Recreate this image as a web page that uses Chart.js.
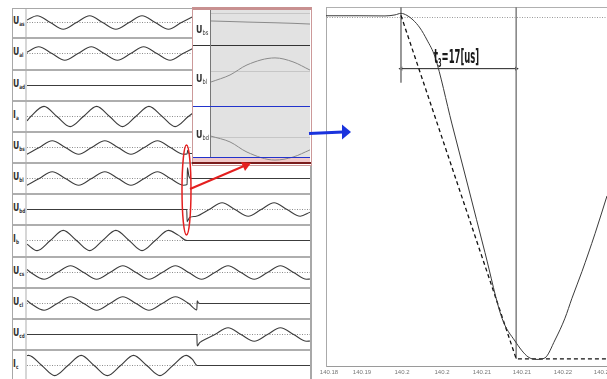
<!DOCTYPE html>
<html>
<head>
<meta charset="utf-8">
<script src="https://cdn.jsdelivr.net/npm/chart.js@4.4.1/dist/chart.umd.min.js"></script>
<style>
  body{margin:0;width:607px;height:379px;overflow:hidden;background:#fff;position:relative;
       font-family:'Liberation Sans Narrow','DejaVu Sans Condensed','Liberation Sans',Arial,sans-serif}
  .abs{position:absolute}
  .box{position:absolute}
  .lbl{position:absolute;font-weight:bold;font-size:11px;color:#333;line-height:12px;white-space:nowrap;transform:scaleX(0.78);transform-origin:0 0}
  .lbl sub{font-size:6px;vertical-align:-2px}
  .ilbl{position:absolute;font-weight:bold;font-size:11px;color:#333;line-height:12px;white-space:nowrap;transform:scaleX(0.8);transform-origin:0 0}
  .ilbl sub{font-size:7px;vertical-align:-2px;font-weight:normal}
</style>
</head>
<body>
<script>
// ---- left strips: time in ms, values per unit (currents drawn with larger swing)
const T_END = 89.8;
const ROW_LABELS = [['U','as'],['U','al'],['U','ad'],['I','a'],['U','bs'],['U','bl'],['U','bd'],['I','b'],['U','cs'],['U','cl'],['U','cd'],['I','c']];

const UAS = [[0,0.36],[3.2,1],[7.4,0],[11.5,-1],[15.7,0],[19.9,1],[24.0,0],[28.2,-1],[32.4,0],[36.5,1],[40.7,0],[44.9,-1],[49.0,0],[53.2,1]];
const UAL = [[0,0.2],[3.7,1],[7.9,0],[12.0,-1],[16.2,0],[20.4,1],[24.5,0],[28.7,-1],[32.9,0],[37.0,1],[41.2,0],[45.4,-1],[49.5,0],[53.7,1]];
const UAD = [[0,0],[54,0]];
const IA  = [[0,-0.65],[1.2,0],[5.4,1.5],[9.5,0],[13.7,-1.5],[17.9,0],[22.1,1.5],[26.2,0],[30.3,-1.5],[34.5,0],[38.7,1.5],[42.9,0],[47.0,-1.5],[51.2,0],[55.4,1.5]];
const UBS = [[0,-1],[3.9,0],[8.0,1],[12.2,0],[16.4,-1],[20.5,0],[24.7,1],[28.9,0],[33.0,-1],[37.2,0],[41.4,1],[45.5,0],[49.7,-1],[50.8,-0.95],[51.0,-0.4],[51.4,-0.9],[54,-0.85]];
const UBL = [[0,-1],[3.9,0],[8.0,1],[12.2,0],[16.4,-1],[20.5,0],[24.7,1],[28.9,0],[33.0,-1],[37.2,0],[41.4,1],[45.5,0],[49.7,-1],[50.8,-0.9],[50.9,1.6],[51.4,0.3],[52.2,0],[89.8,0]];
const UBD = [[0,0],[50.7,0],[50.8,-1.8],[51.6,-1.2],[53.7,-1],[57.8,0],[61.9,1],[66.0,0],[70.2,-1],[74.3,0],[78.4,1],[82.5,0],[86.7,-1],[89.8,-0.4]];
const IB  = [[0,-0.55],[3.2,-1.5],[7.4,0],[11.5,1.5],[15.7,0],[19.9,-1.5],[24.0,0],[28.2,1.5],[32.4,0],[36.5,-1.5],[40.7,0],[44.9,1.5],[48.0,0.8],[50.8,0],[89.8,0]];
const UCS = [[0,0.45],[1.2,0],[5.4,-1],[9.6,0],[13.8,1],[18.0,0],[22.1,-1],[26.3,0],[30.4,1],[34.6,0],[38.7,-1],[42.9,0],[47.1,1],[51.3,0],[55.4,-1],[59.6,0],[63.8,1],[67.9,0],[72.1,-1],[76.3,0],[80.4,1],[84.6,0],[88.7,-1],[89.8,-0.96]];
const UCL = [[0,0.45],[1.2,0],[5.4,-1],[9.6,0],[13.8,1],[18.0,0],[22.1,-1],[26.3,0],[30.4,1],[34.6,0],[38.7,-1],[42.9,0],[47.1,1],[51.3,0],[53.9,-0.95],[54.0,0.4],[54.5,0.05],[55.5,0],[89.8,0]];
const UCD = [[0,0],[53.9,0],[54.0,-1.7],[54.8,-1.2],[55.4,-1],[59.6,0],[63.8,1],[67.9,0],[72.1,-1],[76.3,0],[80.4,1],[84.6,0],[88.7,-1],[89.8,-0.96]];
const IC  = [[0,1.47],[0.5,1.5],[4.7,0],[8.8,-1.5],[13.0,0],[17.2,1.5],[21.3,0],[25.5,-1.5],[29.7,0],[33.8,1.5],[38.0,0],[42.2,-1.5],[46.3,0],[50.5,1.5],[52.5,0.9],[54.0,0],[89.8,0]];
const ROW_SERIES = [UAS,UAL,UAD,IA,UBS,UBL,UBD,IB,UCS,UCL,UCD,IC];

// ---- zoom inset (phase B around the fault)
const INSET_LABELS = [['U','bs'],['U','bl'],['U','bd']];
const INSET_T   = [0, 19, 36, 64, 82, 99];
const INSET_UBS = [0.39, 0.36, 0.33, 0.29, 0.26, 0.22];
const INSET_UBL = [-0.18, 0.05, 0.38, 0.61, 0.48, 0.21];
const INSET_UBD = [-0.06, -0.27, -0.64, -0.93, -0.82, -0.56];
const INSET_REF = [0.833, 0.148, -0.091];

// ---- right panel: time in ms
const R_T_SOLID = [140.18494,140.18995,140.19364,140.19512,140.19600,140.19689,140.19777,140.19880,140.19984,140.20102,140.20352,140.20588,140.20839,140.21090,140.21282,140.21473,140.21606,140.21724,140.21872,140.22019,140.22122,140.22270,140.22462,140.22639];
const R_V_SOLID = [0.998,0.998,0.997,1.003,1.012,1.000,0.974,0.927,0.857,0.758,0.368,0.007,-0.381,-0.763,-0.896,-0.988,-1.003,-0.994,-0.890,-0.763,-0.647,-0.491,-0.271,-0.051];
const R_T_IDEAL = [140.196, 140.213, 140.22639];
const R_V_IDEAL = [1, -1, -1];
const R_TICKS = [140.18538,140.19025,140.19615,140.20205,140.20795,140.21385,140.21990,140.22580];
const R_TICK_LABELS = ['140.18','140.19','140.2','140.2','140.21','140.21','140.22','140.22'];
const T_START = 140.196, T_END3 = 140.213;
const R_REF = 0.988;

const X_MIN = 140.18494, X_MAX = 140.22639, Y_MIN = -1.046, Y_MAX = 1.049;

// ---------- helpers
const body = document.body;
function el(tag, cls, css, html){
  const d = document.createElement(tag);
  if(cls) d.className = cls;
  Object.assign(d.style, css||{});
  if(html!=null) d.innerHTML = html;
  body.appendChild(d);
  return d;
}
function canvasBox(left, top, w, h){
  const d = el('div','box',{left:left+'px',top:top+'px',width:w+'px',height:h+'px'});
  const c = document.createElement('canvas');
  d.appendChild(c);
  return c;
}
const noUi = {legend:{display:false}, tooltip:{enabled:false}};

function stripChart(canvas, data, yRange, ref, color, lw, xmax){
  return new Chart(canvas, {
    type:'line',
    data:{datasets:[{data, borderColor:color, borderWidth:lw, pointRadius:0, cubicInterpolationMode:'monotone', fill:false}]},
    options:{
      animation:false, responsive:true, maintainAspectRatio:false, events:[],
      layout:{padding:0}, plugins:noUi,
      scales:{
        x:{type:'linear', min:0, max:xmax, display:false},
        y:{min:-yRange, max:yRange, ticks:{display:false},
           grid:ref.grid, border:{display:false, dash:ref.dash},
           afterBuildTicks:s=>{ s.ticks = [{value:ref.value}]; }}
      }
    }
  });
}

// ---------- left panel frame
const rowTop = i => Math.round(7.2 + 31.17*i);
el('div','abs',{left:'12px',top:'8px',width:'297px',height:'380px',border:'1px solid #a8a8a8',borderRight:'2px solid #a8a8a8'});
el('div','abs',{left:'25px',top:'9px',width:'2px',height:'370px',background:'#d6d6d6'});
for(let i=1;i<12;i++){
  el('div','abs',{left:'13px',top:(rowTop(i)-1)+'px',width:'297px',height:'2px',background:'#aeaeae'});
}
ROW_LABELS.forEach((lb,i)=>{
  el('div','lbl',{left:'13px',top:(rowTop(i)+8)+'px'}, lb[0]+'<sub>'+lb[1]+'</sub>');
});
ROW_SERIES.forEach((s,i)=>{
  const c = canvasBox(27, rowTop(i), 283, 31);
  stripChart(c, s, 2.3, {value:0, grid:{color:'#8c8c8c', drawTicks:false, lineWidth:1}, dash:[1,1.5]}, '#3c3c3c', 1.1, T_END);
});

// ---------- inset
el('div','abs',{left:'192px',top:'7px',width:'118px',height:'155px',background:'#fff',border:'1px solid #c99',borderTop:'3px solid #c89090'});
el('div','abs',{left:'211px',top:'10px',width:'99px',height:'148px',background:'#e2e2e2'});
el('div','abs',{left:'193px',top:'158px',width:'117px',height:'4px',background:'#f1c9c9'});
const insetRows = [[10,36,INSET_UBS],[46,61,INSET_UBL],[107,55,INSET_UBD]];
insetRows.forEach((r,k)=>{
  const c = canvasBox(211, r[0], 99, r[1]);
  stripChart(c, INSET_T.map((t,j)=>[t, r[2][j]]), 1, {value:INSET_REF[k], grid:{color:'#c6c6c6', drawTicks:false, lineWidth:1}, dash:[]}, '#8a8a8a', 1, 99);
});
el('div','abs',{left:'193px',top:'45px',width:'117px',height:'1px',background:'#333'});
el('div','abs',{left:'210px',top:'10px',width:'1px',height:'148px',background:'#777'});
el('div','abs',{left:'193px',top:'106px',width:'117px',height:'1px',background:'#2233cc'});
el('div','abs',{left:'193px',top:'157px',width:'117px',height:'1px',background:'#2233cc'});
el('div','abs',{left:'192px',top:'162px',width:'119px',height:'2px',background:'#7a1c1c'});
el('div','ilbl',{left:'196px',top:'24px'}, INSET_LABELS[0][0]+'<sub>'+INSET_LABELS[0][1]+'</sub>');
el('div','ilbl',{left:'196px',top:'73px'}, INSET_LABELS[1][0]+'<sub>'+INSET_LABELS[1][1]+'</sub>');
el('div','ilbl',{left:'196px',top:'129px'}, INSET_LABELS[2][0]+'<sub>'+INSET_LABELS[2][1]+'</sub>');

// ---------- right panel
el('div','abs',{left:'326px',top:'7px',width:'290px',height:'1px',background:'#b0b0b0'});
const rc = canvasBox(300, 0, 340, 379);
new Chart(rc, {
  type:'line',
  data:{datasets:[
    {data:R_T_SOLID.map((t,i)=>[t,R_V_SOLID[i]]), borderColor:'#3a3a3a', borderWidth:1, pointRadius:0, cubicInterpolationMode:'monotone'},
    {data:R_T_IDEAL.map((t,i)=>[t,R_V_IDEAL[i]]), borderColor:'#111', borderWidth:1.3, borderDash:[4,3], pointRadius:0, tension:0},
    {data:[[T_START,Y_MAX],[T_START,0.609]], borderColor:'#8a8a8a', borderWidth:1, pointRadius:0, tension:0},
    {data:[[T_END3,Y_MAX],[T_END3,-1]], borderColor:'#8a8a8a', borderWidth:1, pointRadius:0, tension:0},
    {data:[[T_START,0.69],[T_END3,0.69]], borderColor:'#222', backgroundColor:'#222', borderWidth:1, tension:0,
     pointStyle:'triangle', pointRadius:2.5, pointRotation:[-90,90], pointBorderWidth:0}
  ]},
  options:{
    animation:false, responsive:true, maintainAspectRatio:false, events:[],
    layout:{padding:{left:26, right:33, top:7, bottom:1}}, plugins:noUi,
    scales:{
      x:{type:'linear', min:X_MIN, max:X_MAX,
         grid:{display:false, drawTicks:false}, border:{color:'#9a9a9a', width:1},
         ticks:{font:{size:6, family:'Liberation Sans Narrow, Liberation Sans, sans-serif'}, color:'#777', padding:2, autoSkip:false, maxRotation:0,
                callback:(v,i)=>R_TICK_LABELS[i]},
         afterBuildTicks:s=>{ s.ticks = R_TICKS.map(v=>({value:v})); },
         afterFit:s=>{ s.paddingLeft = 0; s.paddingRight = 0; }},
      y:{min:Y_MIN, max:Y_MAX, ticks:{display:false},
         grid:{color:'#9a9a9a', drawTicks:false, lineWidth:1}, border:{color:'#aaa', width:1, dash:[1,1.5]},
         afterBuildTicks:s=>{ s.ticks = [{value:R_REF}]; }}
    }
  }
});
el('div','abs',{left:'434px',top:'44px',fontWeight:'bold',fontSize:'20px',color:'#1a1a1a',whiteSpace:'nowrap',lineHeight:'24px',transform:'scaleX(0.47)',transformOrigin:'0 0'},
   't<sub style="font-size:12px;vertical-align:-4px">3</sub>=17[us]');

// ---------- markers (ellipse, arrows)
const ns = 'http://www.w3.org/2000/svg';
const svg = document.createElementNS(ns,'svg');
svg.setAttribute('width','607'); svg.setAttribute('height','379');
Object.assign(svg.style,{position:'absolute',left:'0',top:'0'});
svg.innerHTML =
  '<ellipse cx="186.5" cy="190" rx="4.5" ry="45" fill="none" stroke="#e41f1f" stroke-width="1.5"/>' +
  '<line x1="190" y1="189" x2="244" y2="166" stroke="#e41f1f" stroke-width="2"/>' +
  '<polygon points="251,163 241,162 245,171" fill="#e41f1f"/>' +
  '<line x1="309" y1="133.5" x2="343" y2="132" stroke="#1a33dd" stroke-width="3"/>' +
  '<polygon points="342,124.5 351,132 342,139.5" fill="#1a33dd"/>';
body.appendChild(svg);
</script>
</body>
</html>
